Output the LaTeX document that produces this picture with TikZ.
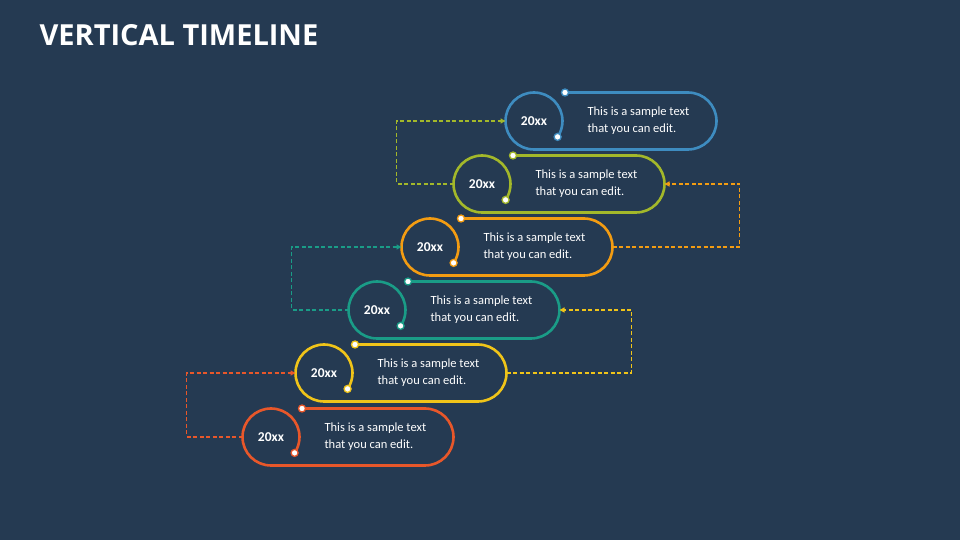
\documentclass[tikz,border=0pt]{standalone}
\usepackage{fontspec}
\setmainfont{Carlito}
\newfontfamily\titlefont{Open Sans}
\usetikzlibrary{calc,arrows.meta}
\definecolor{bg}{HTML}{253A52}
\definecolor{cblue}{HTML}{3E8CC0}
\definecolor{cgreen}{HTML}{A3B82A}
\definecolor{corange}{HTML}{F39C12}
\definecolor{cteal}{HTML}{1A9C87}
\definecolor{cyellow}{HTML}{F0C419}
\definecolor{cred}{HTML}{E8572A}
\tikzset{
  pill/.style={line width=2.6pt},
  dotmark/.style={circle,fill=white,draw=#1,line width=1.3pt,inner sep=0pt,minimum size=7pt},
  conn/.style={draw=#1,dashed,line width=1.3pt,dash pattern=on 4pt off 2.5pt,-{Triangle[length=5pt,width=5pt]}},
  yearlbl/.style={text=white,font=\bfseries\fontsize{13.5}{15}\selectfont},
  desclbl/.style={text=white,anchor=west,align=left,font=\fontsize{12.5}{17}\selectfont}
}
\begin{document}
\begin{tikzpicture}[x=1pt,y=1pt]
\fill[bg] (0,0) rectangle (960,540);
\useasboundingbox (0,0) rectangle (960,540);
\node[anchor=west,text=white,font=\titlefont\bfseries\fontsize{29}{32}\selectfont] (title) at (36,505) {VERTICAL TIMELINE};
\foreach \n/\cx/\cy/\col in {b/534/121/cblue, g/482/184/cgreen, o/430/247/corange, t/377/310/cteal, y/324/373/cyellow, r/271/437/cred}{
  \coordinate (c\n) at (\cx,540-\cy);
  \coordinate (L\n) at ($(c\n)+(-28.5,0)$);
  \coordinate (R\n) at ($(c\n)+(182.5,0)$);
  \draw[pill,\col] ($(c\n)+(31,28.5)$) -- ($(c\n)+(154,28.5)$) arc[start angle=90,end angle=-90,radius=28.5]
     -- ($(c\n)+(0,-28.5)$) arc[start angle=270,end angle=-34,radius=28.5];
  \node[dotmark=\col] (dt\n) at ($(c\n)+(31,28.5)$) {};
  \node[dotmark=\col] (de\n) at ($(c\n)+(23.6,-15.9)$) {};
  \node[yearlbl] (yr\n) at (c\n) {20xx};
  \node[desclbl] (tx\n) at ($(c\n)+(50,0)$) {This is a sample text\\that you can edit.};
}
\draw[conn=cgreen] (Lg) -- ($(Lg)+(-57,0)$) |- (Lb);
\draw[conn=corange] (Ro) -- ($(Ro)+(127,0)$) |- (Rg);
\draw[conn=cteal] (Lt) -- ($(Lt)+(-57,0)$) |- (Lo);
\draw[conn=cyellow] (Ry) -- ($(Ry)+(125,0)$) |- (Rt);
\draw[conn=cred] (Lr) -- ($(Lr)+(-56,0)$) |- (Ly);
\end{tikzpicture}
\end{document}
